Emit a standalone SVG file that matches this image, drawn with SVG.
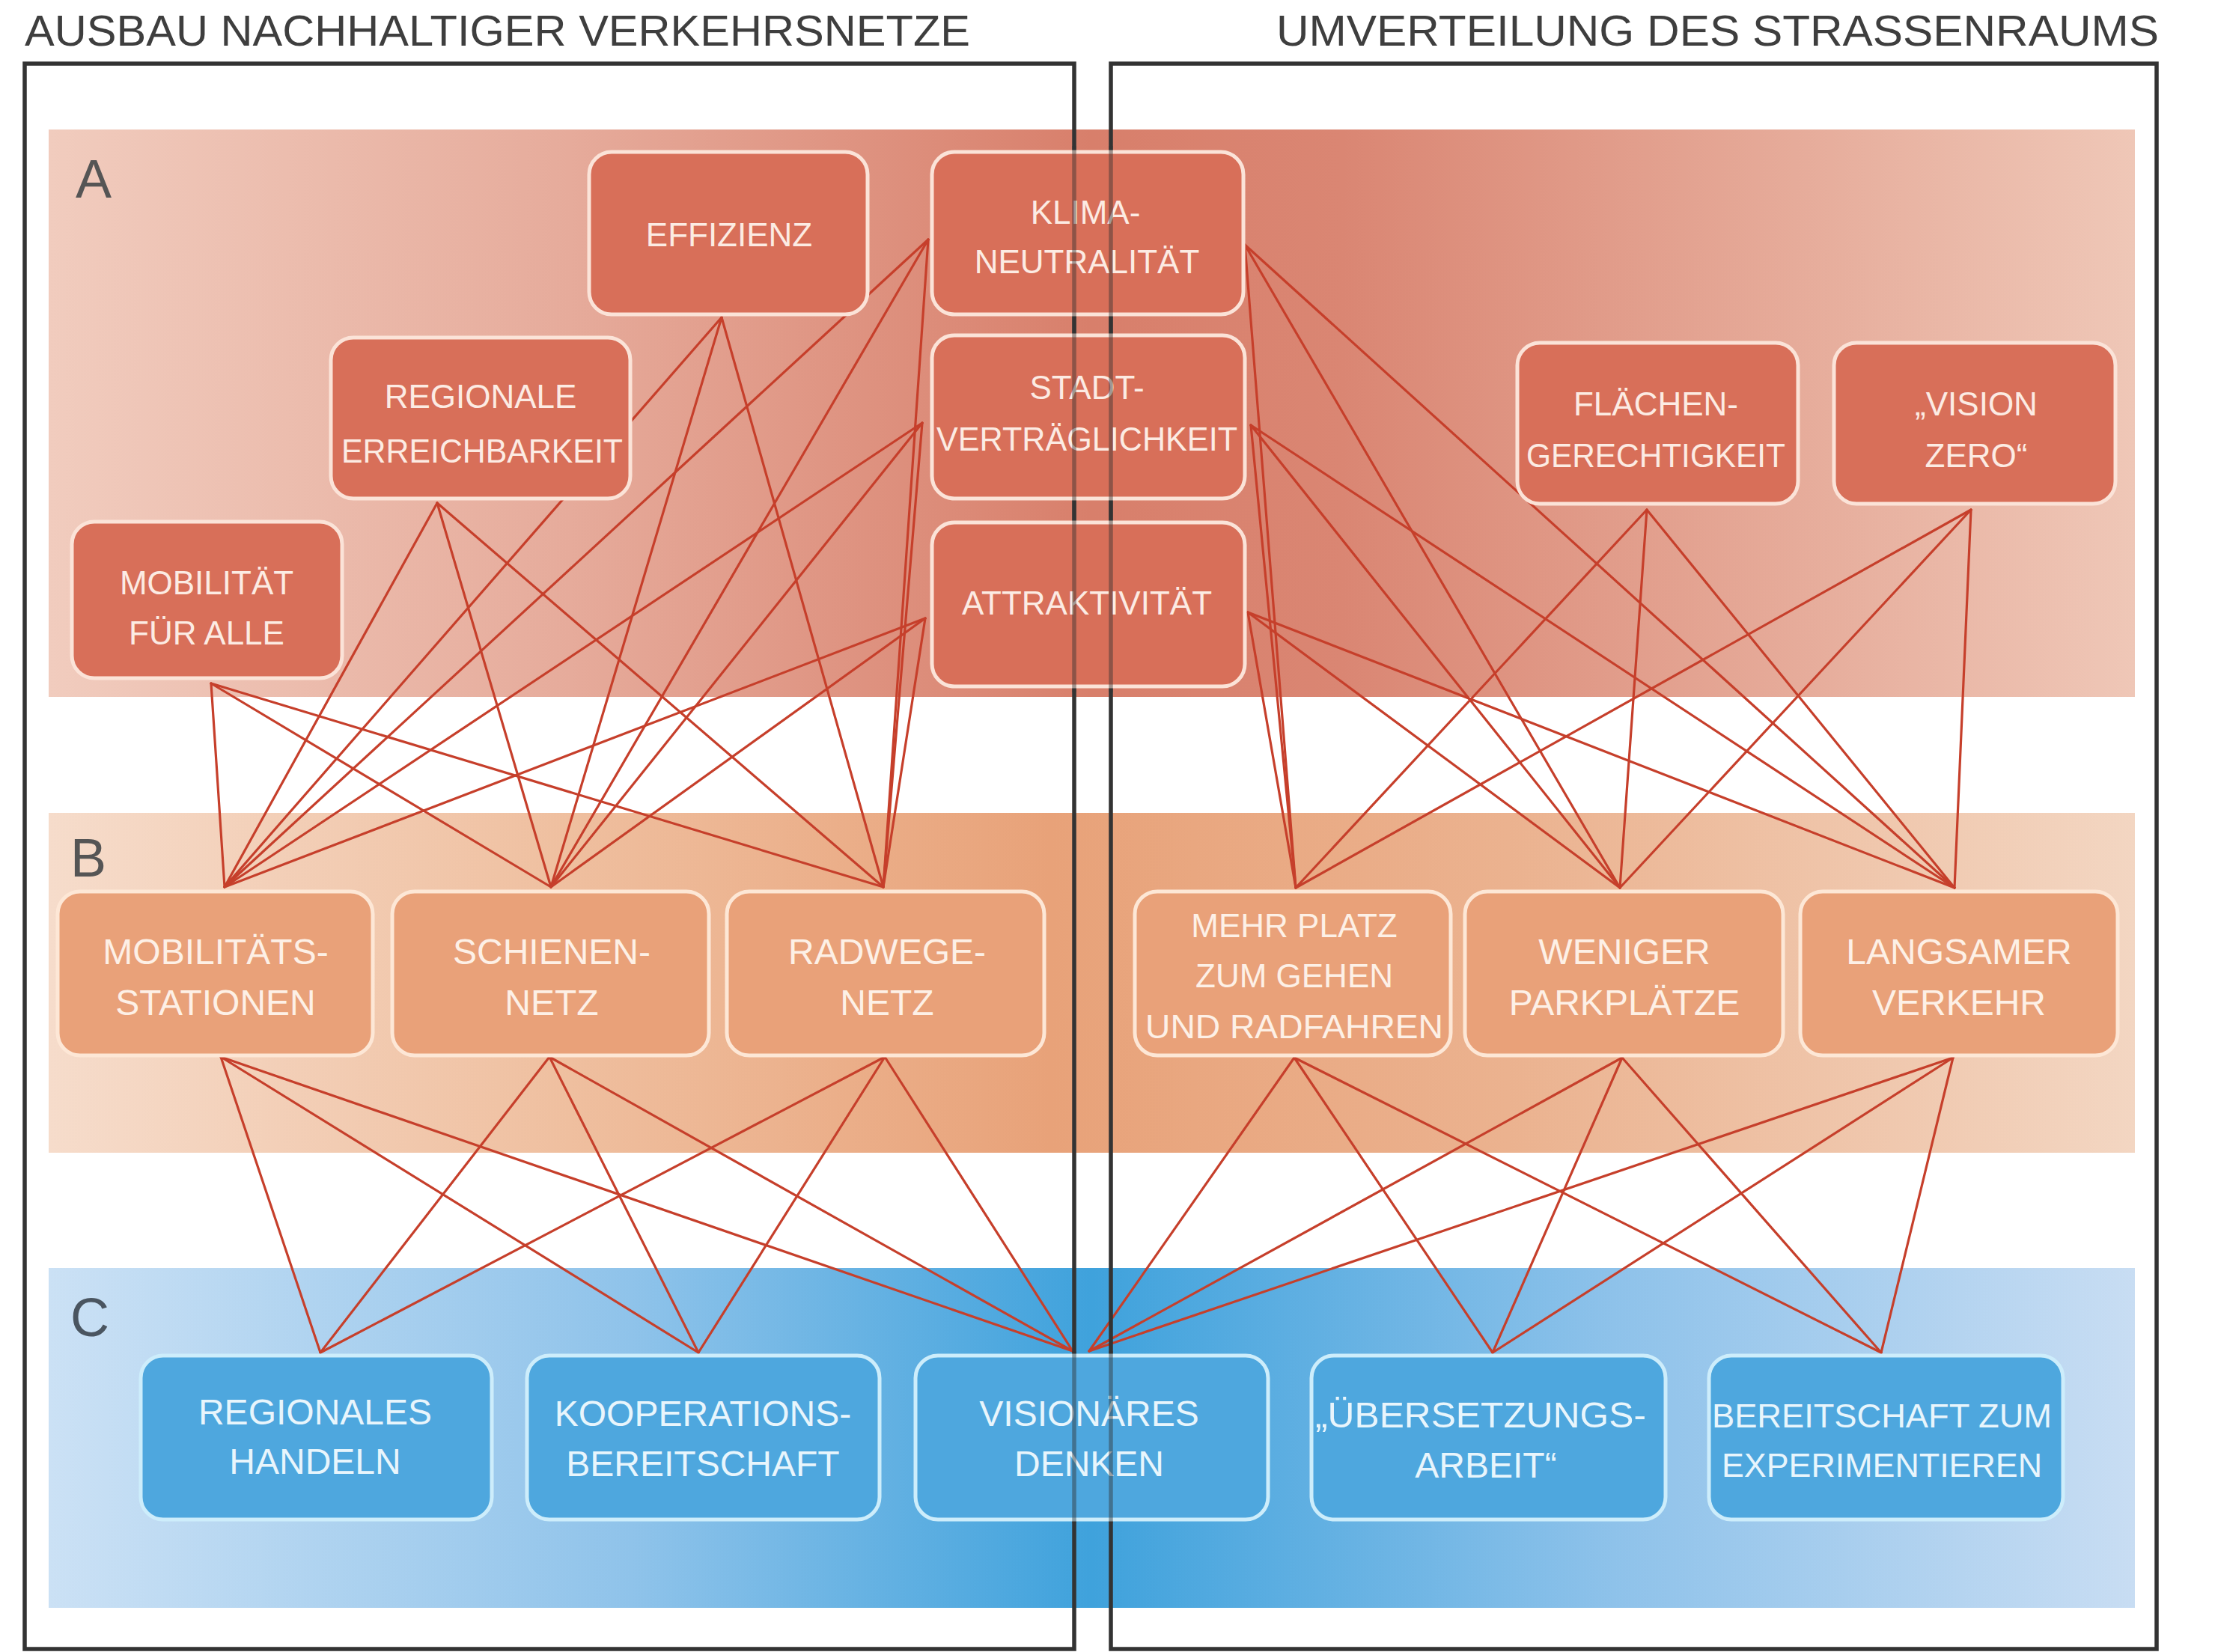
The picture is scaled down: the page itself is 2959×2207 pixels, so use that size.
<svg xmlns="http://www.w3.org/2000/svg" width="2959" height="2207" viewBox="0 0 2959 2207">
<defs>
<linearGradient id="gA" x1="0" y1="0" x2="1" y2="0">
<stop offset="0" stop-color="#f1ccbe"/><stop offset="0.25" stop-color="#e6ab9b"/><stop offset="0.5" stop-color="#d87f6b"/><stop offset="0.62" stop-color="#da8673"/><stop offset="1" stop-color="#efc7b7"/>
</linearGradient>
<linearGradient id="gB" x1="0" y1="0" x2="1" y2="0">
<stop offset="0" stop-color="#f6dccb"/><stop offset="0.25" stop-color="#efbf9f"/><stop offset="0.48" stop-color="#e8a279"/><stop offset="0.7" stop-color="#ebb28f"/><stop offset="1" stop-color="#f3d6c2"/>
</linearGradient>
<linearGradient id="gC" x1="0" y1="0" x2="1" y2="0">
<stop offset="0" stop-color="#cbe1f5"/><stop offset="0.28" stop-color="#8fc3ea"/><stop offset="0.5" stop-color="#3fa2dc"/><stop offset="0.75" stop-color="#8ec2ea"/><stop offset="1" stop-color="#c8ddf3"/>
</linearGradient>
<style>
text{font-family:"Liberation Sans",Arial,sans-serif;text-anchor:middle}
.title{font-size:57px;fill:#3e3e3e;text-anchor:start}
.band-letter{font-size:72px;text-anchor:start}
.ln{stroke:#c63f2b;stroke-width:3.2;fill:none;stroke-linecap:round}
.frame{fill:none;stroke:#333;stroke-width:5.5}
.na rect{fill:#d86f59;stroke:#fbe3d8;stroke-width:5}
.na text{fill:#fcebe3;font-size:44px}
.nb rect{fill:#e9a179;stroke:#fde7d6;stroke-width:5}
.nb text{fill:#fdf0e6;font-size:48px}
.nc rect{fill:#4ea7de;stroke:#cdedfb;stroke-width:5}
.nc text{fill:#e8f5fc;font-size:48px}
</style>
</defs>
<rect x="0" y="0" width="2959" height="2207" fill="#ffffff"/>
<g id="titles">
<text class="title" x="33" y="61" textLength="1263" lengthAdjust="spacingAndGlyphs">AUSBAU NACHHALTIGER VERKEHRSNETZE</text>
<text class="title" x="1705" y="61" textLength="1179" lengthAdjust="spacingAndGlyphs">UMVERTEILUNG DES STRASSENRAUMS</text>
</g>
<g id="bands">
<rect x="65" y="173" width="2787" height="758" fill="url(#gA)"/>
<rect x="65" y="1086" width="2787" height="454" fill="url(#gB)"/>
<rect x="65" y="1694" width="2787" height="454" fill="url(#gC)"/>
<text class="band-letter" x="101" y="264" fill="#555">A</text>
<text class="band-letter" x="94" y="1171" fill="#555">B</text>
<text class="band-letter" x="94" y="1785" fill="#4a5560">C</text>
</g>
<g id="connectors">
<line class="ln" x1="282" y1="913" x2="300" y2="1185"/>
<line class="ln" x1="282" y1="913" x2="736" y2="1185"/>
<line class="ln" x1="282" y1="913" x2="1180" y2="1185"/>
<line class="ln" x1="584" y1="672" x2="300" y2="1185"/>
<line class="ln" x1="584" y1="672" x2="736" y2="1185"/>
<line class="ln" x1="584" y1="672" x2="1180" y2="1185"/>
<line class="ln" x1="964" y1="424" x2="300" y2="1185"/>
<line class="ln" x1="964" y1="424" x2="736" y2="1185"/>
<line class="ln" x1="964" y1="424" x2="1180" y2="1185"/>
<line class="ln" x1="1240" y1="320" x2="300" y2="1185"/>
<line class="ln" x1="1240" y1="320" x2="736" y2="1185"/>
<line class="ln" x1="1240" y1="320" x2="1180" y2="1185"/>
<line class="ln" x1="1232" y1="565" x2="300" y2="1185"/>
<line class="ln" x1="1232" y1="565" x2="736" y2="1185"/>
<line class="ln" x1="1232" y1="565" x2="1180" y2="1185"/>
<line class="ln" x1="1236" y1="826" x2="300" y2="1185"/>
<line class="ln" x1="1236" y1="826" x2="736" y2="1185"/>
<line class="ln" x1="1236" y1="826" x2="1180" y2="1185"/>
<line class="ln" x1="1663" y1="327" x2="1731" y2="1186"/>
<line class="ln" x1="1663" y1="327" x2="2164" y2="1186"/>
<line class="ln" x1="1663" y1="327" x2="2611" y2="1186"/>
<line class="ln" x1="1671" y1="568" x2="1731" y2="1186"/>
<line class="ln" x1="1671" y1="568" x2="2164" y2="1186"/>
<line class="ln" x1="1671" y1="568" x2="2611" y2="1186"/>
<line class="ln" x1="1667" y1="818" x2="1731" y2="1186"/>
<line class="ln" x1="1667" y1="818" x2="2164" y2="1186"/>
<line class="ln" x1="1667" y1="818" x2="2611" y2="1186"/>
<line class="ln" x1="2200" y1="681" x2="1731" y2="1186"/>
<line class="ln" x1="2200" y1="681" x2="2164" y2="1186"/>
<line class="ln" x1="2200" y1="681" x2="2611" y2="1186"/>
<line class="ln" x1="2633" y1="681" x2="1731" y2="1186"/>
<line class="ln" x1="2633" y1="681" x2="2164" y2="1186"/>
<line class="ln" x1="2633" y1="681" x2="2611" y2="1186"/>
<line class="ln" x1="295" y1="1412" x2="428" y2="1807"/>
<line class="ln" x1="295" y1="1412" x2="933" y2="1807"/>
<line class="ln" x1="295" y1="1412" x2="1433" y2="1805"/>
<line class="ln" x1="734" y1="1412" x2="428" y2="1807"/>
<line class="ln" x1="734" y1="1412" x2="933" y2="1807"/>
<line class="ln" x1="734" y1="1412" x2="1433" y2="1805"/>
<line class="ln" x1="1182" y1="1412" x2="428" y2="1807"/>
<line class="ln" x1="1182" y1="1412" x2="933" y2="1807"/>
<line class="ln" x1="1182" y1="1412" x2="1433" y2="1805"/>
<line class="ln" x1="1729" y1="1413" x2="1455" y2="1805"/>
<line class="ln" x1="1729" y1="1413" x2="1994" y2="1807"/>
<line class="ln" x1="1729" y1="1413" x2="2513" y2="1807"/>
<line class="ln" x1="2167" y1="1413" x2="1455" y2="1805"/>
<line class="ln" x1="2167" y1="1413" x2="1994" y2="1807"/>
<line class="ln" x1="2167" y1="1413" x2="2513" y2="1807"/>
<line class="ln" x1="2609" y1="1413" x2="1455" y2="1805"/>
<line class="ln" x1="2609" y1="1413" x2="1994" y2="1807"/>
<line class="ln" x1="2609" y1="1413" x2="2513" y2="1807"/>
</g>
<g id="frames">
<rect class="frame" x="33" y="85" width="1402" height="2118"/>
<rect class="frame" x="1484" y="85" width="1397" height="2118"/>
</g>
<g id="node-effizienz" class="na"><rect x="787" y="203" width="372" height="217" rx="30"/><text x="974" y="329">EFFIZIENZ</text></g>
<g id="node-klimaneutralitaet" class="na"><rect x="1245" y="203" width="416" height="217" rx="30"/><text x="1450" y="299">KLIMA-</text><text x="1452" y="365">NEUTRALITÄT</text></g>
<g id="node-stadtvertraeglichkeit" class="na"><rect x="1245" y="448" width="418" height="218" rx="30"/><text x="1452" y="533">STADT-</text><text x="1452" y="602" textLength="402" lengthAdjust="spacingAndGlyphs">VERTRÄGLICHKEIT</text></g>
<g id="node-attraktivitaet" class="na"><rect x="1245" y="698" width="418" height="219" rx="30"/><text x="1452" y="821">ATTRAKTIVITÄT</text></g>
<g id="node-regionale-erreichbarkeit" class="na"><rect x="442" y="451" width="400" height="215" rx="30"/><text x="642" y="545">REGIONALE</text><text x="644" y="618" textLength="376" lengthAdjust="spacingAndGlyphs">ERREICHBARKEIT</text></g>
<g id="node-mobilitaet-fuer-alle" class="na"><rect x="96" y="697" width="361" height="209" rx="30"/><text x="276" y="794">MOBILITÄT</text><text x="276" y="861">FÜR ALLE</text></g>
<g id="node-flaechengerechtigkeit" class="na"><rect x="2027" y="458" width="375" height="215" rx="30"/><text x="2212" y="555">FLÄCHEN-</text><text x="2212" y="624" textLength="346" lengthAdjust="spacingAndGlyphs">GERECHTIGKEIT</text></g>
<g id="node-vision-zero" class="na"><rect x="2450" y="458" width="376" height="215" rx="30"/><text x="2640" y="555">„VISION</text><text x="2640" y="624">ZERO“</text></g>
<g id="node-mobilitaetsstationen" class="nb"><rect x="77" y="1191" width="421" height="219" rx="30"/><text x="288" y="1288">MOBILITÄTS-</text><text x="288" y="1356">STATIONEN</text></g>
<g id="node-schienennetz" class="nb"><rect x="524" y="1191" width="423" height="219" rx="30"/><text x="737" y="1288">SCHIENEN-</text><text x="737" y="1356">NETZ</text></g>
<g id="node-radwegenetz" class="nb"><rect x="971" y="1191" width="424" height="219" rx="30"/><text x="1185" y="1288">RADWEGE-</text><text x="1185" y="1356">NETZ</text></g>
<g id="node-mehr-platz" class="nb"><rect x="1516" y="1191" width="422" height="219" rx="30"/><text x="1729" y="1252" style="font-size:44px">MEHR PLATZ</text><text x="1729" y="1319" style="font-size:44px">ZUM GEHEN</text><text x="1729" y="1387" style="font-size:44px" textLength="398" lengthAdjust="spacingAndGlyphs">UND RADFAHREN</text></g>
<g id="node-weniger-parkplaetze" class="nb"><rect x="1957" y="1191" width="425" height="219" rx="30"/><text x="2170" y="1288">WENIGER</text><text x="2170" y="1356">PARKPLÄTZE</text></g>
<g id="node-langsamer-verkehr" class="nb"><rect x="2405" y="1191" width="424" height="219" rx="30"/><text x="2617" y="1288">LANGSAMER</text><text x="2617" y="1356">VERKEHR</text></g>
<g id="node-regionales-handeln" class="nc"><rect x="188" y="1811" width="469" height="219" rx="30"/><text x="421" y="1903">REGIONALES</text><text x="421" y="1969">HANDELN</text></g>
<g id="node-kooperationsbereitschaft" class="nc"><rect x="704" y="1811" width="471" height="219" rx="30"/><text x="939" y="1905">KOOPERATIONS-</text><text x="939" y="1972">BEREITSCHAFT</text></g>
<g id="node-visionaeres-denken" class="nc"><rect x="1223" y="1811" width="471" height="219" rx="30"/><text x="1455" y="1905">VISIONÄRES</text><text x="1455" y="1972">DENKEN</text></g>
<g id="node-uebersetzungsarbeit" class="nc"><rect x="1752" y="1811" width="473" height="219" rx="30"/><text x="1978" y="1907" textLength="442" lengthAdjust="spacingAndGlyphs">„ÜBERSETZUNGS-</text><text x="1985" y="1974">ARBEIT“</text></g>
<g id="node-bereitschaft-experimentieren" class="nc"><rect x="2283" y="1811" width="473" height="219" rx="30"/><text x="2514" y="1907" style="font-size:44px" textLength="454" lengthAdjust="spacingAndGlyphs">BEREITSCHAFT ZUM</text><text x="2514" y="1973" style="font-size:44px" textLength="428" lengthAdjust="spacingAndGlyphs">EXPERIMENTIEREN</text></g>
<g id="frame-overlay" opacity="0.45">
<line x1="1435" y1="195" x2="1435" y2="925" stroke="#333" stroke-width="5.5"/>
<line x1="1484" y1="195" x2="1484" y2="925" stroke="#333" stroke-width="5.5"/>
<line x1="1435" y1="1805" x2="1435" y2="2035" stroke="#333" stroke-width="5.5"/>
<line x1="1484" y1="1805" x2="1484" y2="2035" stroke="#333" stroke-width="5.5"/>
</g>
</svg>
